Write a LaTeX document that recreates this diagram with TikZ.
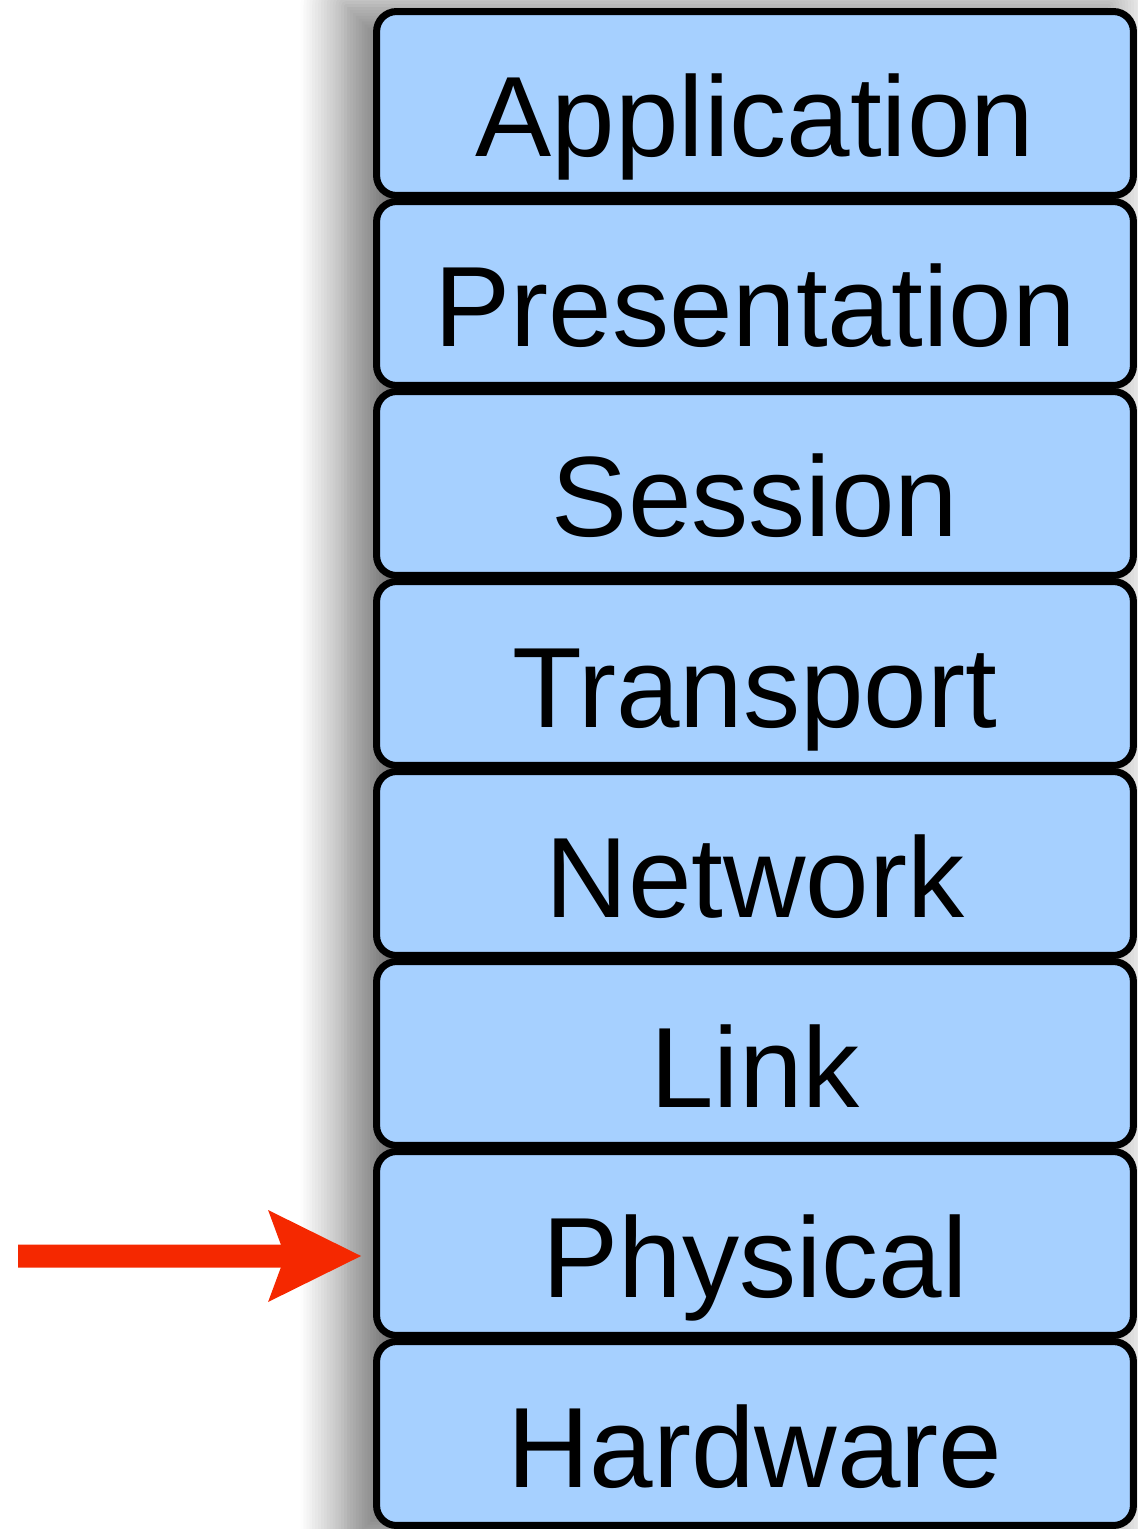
\documentclass[tikz,border=0pt]{standalone}
\usepackage{fontspec}
\setmainfont{Liberation Sans}
\usetikzlibrary{positioning}
\usetikzlibrary{arrows.meta}
\usetikzlibrary{backgrounds}
\usetikzlibrary{shadows.blur}
\definecolor{layerblue}{HTML}{A6D0FF}
\definecolor{arrowred}{HTML}{F52800}

\begin{document}
\begin{tikzpicture}[x=0.02cm,y=-0.02cm,
  layer/.style={draw=black, fill=layerblue, line width=4pt, rounded corners=0.4cm,
    minimum width=15.14cm, minimum height=3.68cm, inner sep=0pt,
    text height=2.14cm, text depth=0pt, font=\fontsize{65}{78}\selectfont},
  pointer/.style={draw=arrowred, line width=0.46cm,
    -{Stealth[length=1.86cm, width=1.84cm, inset=0.34cm, line width=0pt]}}]

  % size of the page
  \useasboundingbox (0,0) rectangle (1138,1529);

  % the eight layers, top to bottom
  \foreach \name [count=\i from 0] in {Application,Presentation,Session,Transport,Network,Link,Physical,Hardware}
    \node[layer] (\name) at (755, 103.5+190*\i) {\name};

  % soft shadow behind the stack
  \begin{scope}[on background layer]
    \path[blur shadow={shadow xshift=-0.55cm, shadow yshift=0.05cm,
      shadow blur radius=0.9cm, shadow blur steps=16, shadow opacity=55}]
      (Application.north west) rectangle ([yshift=-0.4cm]Hardware.south east);
  \end{scope}

  % arrow pointing at the physical layer
  \coordinate (tail) at (18,1256);
  \draw[pointer] (tail) -- ([xshift=-0.24cm, yshift=-0.25cm]Physical.west);

\end{tikzpicture}
\end{document}
